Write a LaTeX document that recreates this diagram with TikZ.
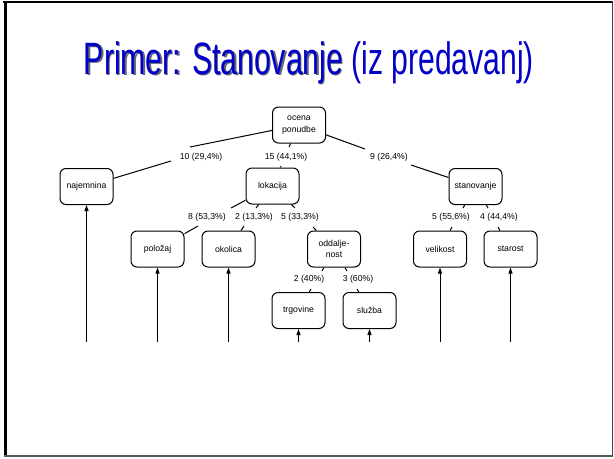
\documentclass[tikz,border=0pt]{standalone}
\usepackage{fontspec}
\setmainfont{Liberation Sans}
\usetikzlibrary{arrows.meta}
\definecolor{titleblue}{RGB}{0,0,200}
\definecolor{shadowgray}{RGB}{100,100,120}
\newcommand\shtext[1]{\rlap{\kern1.5pt\raisebox{-1.2pt}{\textcolor{shadowgray}{#1}}}#1}
\tikzset{
  tbox/.style={draw, line width=0.75pt, rounded corners=4.5pt, minimum width=39.75pt,
    minimum height=27pt, inner sep=1pt, align=center,
    font=\fontsize{6.5}{8.5}\selectfont},
  elab/.style={inner sep=0pt, font=\fontsize{6.5}{8}\selectfont},
  edge/.style={draw, line width=0.75pt},
  arr/.style={draw, line width=0.75pt, -{Triangle[length=4.5pt,width=3pt]}}
}
\begin{document}
\begin{tikzpicture}[x=0.75pt,y=-0.75pt]
\useasboundingbox (0,0) rectangle (614,458);
% slide frame
\draw[line width=1.5pt] (3,2) -- (613,2);
\draw[line width=2.25pt] (5,1) -- (5,457);
\draw[line width=1.3pt, black!75] (612.5,1) -- (612.5,457);
\draw[line width=1pt, black!65] (4,456) -- (613,456);
% title
\node[anchor=base, inner sep=0pt, text=titleblue, font=\fontsize{34}{40}\selectfont] (title) at (309,74)
  {\scalebox{0.665}[1]{\shtext{Primer: Stanovanje} (iz predavanj)}};
% tree nodes
\node[tbox] (ocena) at (299,125) {ocena\\ponudbe};
\node[tbox] (najem) at (86.5,186.5) {najemnina};
\node[tbox] (lok) at (272.5,186) {lokacija};
\node[tbox] (stan) at (475.5,186.5) {stanovanje};
\node[tbox] (pol) at (157.5,249) {položaj};
\node[tbox] (okol) at (228.5,249) {okolica};
\node[tbox] (odd) at (334,249) {oddalje-\\nost};
\node[tbox] (trg) at (298.5,310.5) {trgovine};
\node[tbox] (sluz) at (369.5,310.5) {služba};
\node[tbox] (vel) at (440,249) {velikost};
\node[tbox] (star) at (510.5,249) {starost};
% edge labels
\node[elab] (l1) at (201,157) {10 (29,4\%)};
\node[elab] (l2) at (286,157) {15 (44,1\%)};
\node[elab] (l3) at (389,157) {9 (26,4\%)};
\node[elab] (l4) at (207,217) {8 (53,3\%)};
\node[elab] (l5) at (254,217) {2 (13,3\%)};
\node[elab] (l6) at (300,217) {5 (33,3\%)};
\node[elab] (l7) at (309,279) {2 (40\%)};
\node[elab] (l8) at (358,279) {3 (60\%)};
\node[elab] (l9) at (451,217) {5 (55,6\%)};
\node[elab] (l10) at (499,217) {4 (44,4\%)};
% connector break points
\coordinate (e1a) at (190,147); \coordinate (e1b) at (171,161);
\coordinate (e2a) at (289,147); \coordinate (e2b) at (281,166);
\coordinate (e3a) at (365,149); \coordinate (e3b) at (411,165);
\coordinate (e4a) at (231,208); \coordinate (e4b) at (198,226);
\coordinate (e5a) at (256,208); \coordinate (e5b) at (244,226);
\coordinate (e6a) at (295,208); \coordinate (e6b) at (313,227);
\coordinate (e7a) at (322,271); \coordinate (e7b) at (311,289);
\coordinate (e8a) at (347,271); \coordinate (e8b) at (357,289);
\coordinate (e9a) at (463,208); \coordinate (e9b) at (452,227);
\coordinate (e10a) at (488,208); \coordinate (e10b) at (498,227);
% connectors
\path[edge] (ocena) -- (e1a) (e1b) -- (najem);
\path[edge] (ocena) -- (e2a) (e2b) -- (lok);
\path[edge] (ocena) -- (e3a) (e3b) -- (stan);
\path[edge] (lok) -- (e4a) (e4b) -- (pol);
\path[edge] (lok) -- (e5a) (e5b) -- (okol);
\path[edge] (lok) -- (e6a) (e6b) -- (odd);
\path[edge] (odd) -- (e7a) (e7b) -- (trg);
\path[edge] (odd) -- (e8a) (e8b) -- (sluz);
\path[edge] (stan) -- (e9a) (e9b) -- (vel);
\path[edge] (stan) -- (e10a) (e10b) -- (star);
% incoming arrows
\coordinate (a1) at (86.5,342);
\coordinate (a2) at (157.5,342);
\coordinate (a3) at (228.5,342);
\coordinate (a4) at (298.5,342);
\coordinate (a5) at (369.5,342);
\coordinate (a6) at (440,342);
\coordinate (a7) at (510.5,342);
\path[arr] (a1) -- (najem);
\path[arr] (a2) -- (pol);
\path[arr] (a3) -- (okol);
\path[arr] (a4) -- (trg);
\path[arr] (a5) -- (sluz);
\path[arr] (a6) -- (vel);
\path[arr] (a7) -- (star);
\end{tikzpicture}
\end{document}
